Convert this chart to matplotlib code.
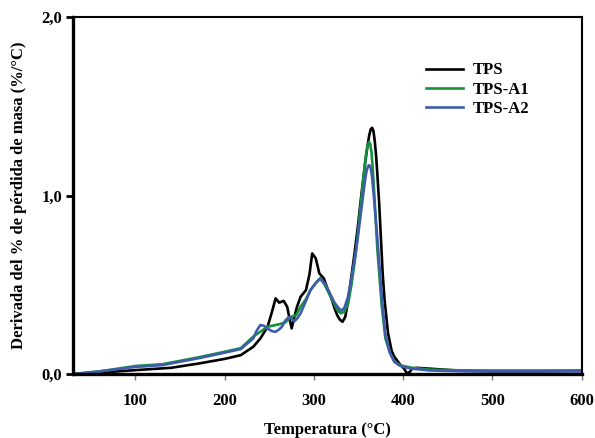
import matplotlib
matplotlib.use("Agg")
import matplotlib.pyplot as plt

plt.rcParams['font.family'] = ['Liberation Serif', 'DejaVu Serif']
plt.rcParams['font.weight'] = 'bold'

# TPS
t_tps = [30, 60, 100, 140, 172, 200, 218, 232, 240, 248, 253, 257, 261, 266, 270, 273, 275, 278,
         281, 285, 291, 295, 298, 302, 306, 311, 315, 319, 323, 326, 329, 332, 335, 338, 342, 345,
         349, 353, 357, 360, 362, 363.5, 365, 366.5, 368, 369.5, 371, 373, 375, 377, 379, 383, 387,
         390, 394, 397, 401, 404, 407, 410, 415, 430, 460, 500, 550, 600]
y_tps = [0.0, 0.008, 0.022, 0.035, 0.06, 0.085, 0.106, 0.153, 0.2, 0.265, 0.35, 0.424, 0.40, 0.41,
         0.377, 0.30, 0.256, 0.32, 0.377, 0.433, 0.47, 0.56, 0.676, 0.648, 0.564, 0.536, 0.48, 0.433,
         0.37, 0.33, 0.305, 0.293, 0.32, 0.40, 0.55, 0.66, 0.82, 1.0, 1.17, 1.28, 1.34, 1.37, 1.38,
         1.365, 1.31, 1.23, 1.12, 0.96, 0.76, 0.56, 0.42, 0.228, 0.13, 0.097, 0.07, 0.05, 0.03,
         0.005, 0.01, 0.03, 0.035, 0.03, 0.02, 0.015, 0.015, 0.018]

# TPS-A1
t_a1 = [30, 60, 100, 130, 172, 200, 218, 232, 248, 262, 268, 274, 280, 285, 291, 296, 302, 307,
        312, 318, 323, 326, 330, 334, 338, 342, 347, 351, 355, 358, 360, 361.5, 363, 364.5, 366,
        368, 371, 376, 380, 385, 390, 395, 400, 410, 430, 470, 520, 600]
y_a1 = [0.0, 0.015, 0.045, 0.055, 0.095, 0.125, 0.145, 0.21, 0.265, 0.28, 0.29, 0.32, 0.33, 0.377,
        0.42, 0.47, 0.51, 0.536, 0.50, 0.44, 0.39, 0.36, 0.34, 0.35, 0.39, 0.50, 0.68, 0.88, 1.08,
        1.22, 1.28, 1.30, 1.29, 1.24, 1.14, 0.97, 0.70, 0.38, 0.2, 0.12, 0.07, 0.055, 0.045, 0.035,
        0.025, 0.02, 0.02, 0.02]

# TPS-A2
t_a2 = [30, 60, 100, 130, 172, 200, 218, 232, 236, 240, 244, 248, 253, 257, 261, 264, 268, 272,
        275, 278, 281, 285, 291, 296, 302, 307, 312, 318, 323, 326, 330, 334, 338, 342, 345, 349,
        353, 357, 359, 360.5, 362, 363.5, 365, 367, 371, 376, 380, 385, 390, 395, 400, 410, 430,
        470, 520, 600]
y_a2 = [0.0, 0.015, 0.04, 0.05, 0.09, 0.12, 0.14, 0.2, 0.245, 0.275, 0.27, 0.255, 0.24, 0.237,
        0.25, 0.265, 0.3, 0.32, 0.31, 0.296, 0.31, 0.34, 0.41, 0.47, 0.51, 0.536, 0.51, 0.45, 0.40,
        0.38, 0.355, 0.37, 0.43, 0.54, 0.63, 0.76, 0.92, 1.08, 1.14, 1.165, 1.17, 1.155, 1.11, 1.0,
        0.76, 0.43, 0.22, 0.12, 0.07, 0.05, 0.04, 0.03, 0.02, 0.015, 0.015, 0.015]

x_ticks = [100, 200, 300, 400, 500, 600]
y_ticks = [0.0, 1.0, 2.0]
y_labels = ["0,0", "1,0", "2,0"]

fig = plt.figure(figsize=(5.95, 4.38), dpi=100)
ax = fig.add_axes([0.1227, 0.146, 0.855, 0.815])

ax.plot(t_tps, y_tps, color="black", lw=1.9, label="TPS")
ax.plot(t_a1, y_a1, color="#13913f", lw=1.9, label="TPS-A1")
ax.plot(t_a2, y_a2, color="#3f5cab", lw=1.9, label="TPS-A2")

ax.set_xlim(30, 600)
ax.set_ylim(0, 2.0)
ax.set_xticks(x_ticks)
ax.set_yticks(y_ticks)
ax.set_yticklabels(y_labels)

for s in ["left", "bottom"]:
    ax.spines[s].set_linewidth(2.4)
for s in ["top", "right"]:
    ax.spines[s].set_linewidth(1.5)

ax.tick_params(axis="x", direction="out", length=4, width=1, color="#777777", labelsize=12, pad=10)
ax.tick_params(axis="y", direction="out", length=5, width=2, labelsize=12, pad=3)

ax.set_xlabel("Temperatura (°C)", fontsize=12, fontweight="bold", labelpad=9)
ax.set_ylabel("Derivada del % de pérdida de masa (%/°C)", fontsize=12, fontweight="bold", labelpad=10)

leg = ax.legend(loc="upper left", bbox_to_anchor=(0.665, 0.915), frameon=False, fontsize=12,
                handlelength=2.2, handletextpad=0.6, labelspacing=0.2)

fig.savefig("out.png", dpi=100)
